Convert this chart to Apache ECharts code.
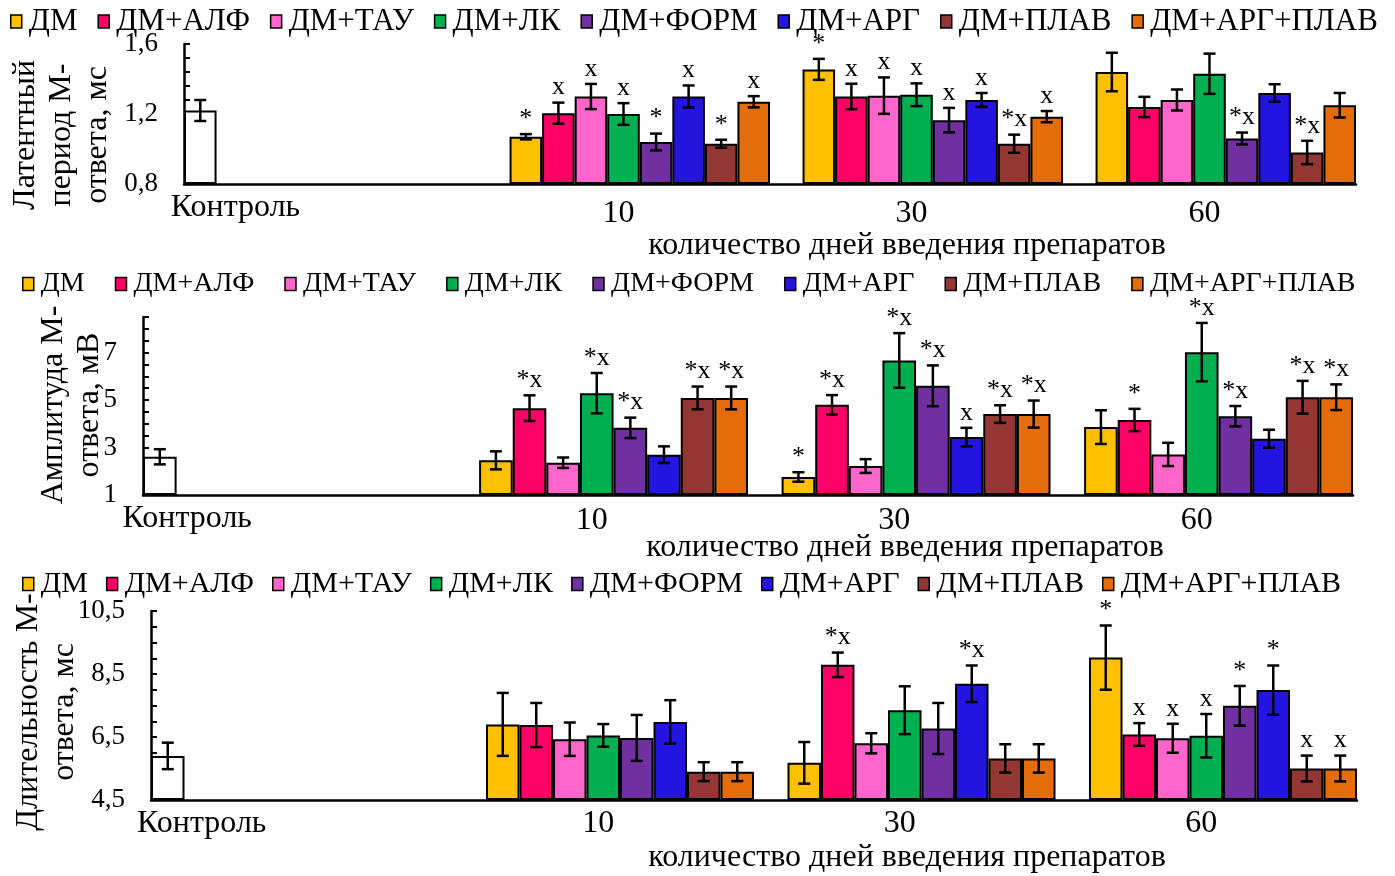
<!DOCTYPE html>
<html><head><meta charset="utf-8">
<script src="https://cdn.jsdelivr.net/npm/echarts@6/dist/echarts.min.js"></script>
<style>html,body{margin:0;padding:0;background:#fff}#c{width:1395px;height:876px}</style>
</head><body><div id="c"></div>
<script>
// ---------- DATA ----------
const categories = ['Контроль', '10', '30', '60'];
const groupNames = ['ДМ','ДМ+АЛФ','ДМ+ТАУ','ДМ+ЛК','ДМ+ФОРМ','ДМ+АРГ','ДМ+ПЛАВ','ДМ+АРГ+ПЛАВ'];
const groupColors = ['#FFC000','#FF0066','#FF66CC','#00B050','#7030A0','#2414E0','#943634','#E46C0A'];
const xTitle = 'количество дней введения препаратов';

// Panel 1: latency (ms), values for days 10, 30, 60 per group
const latencyTitle = 'Латентный\nпериод М-\nответа, мс';
const latencyControl = [1.22, 0.06];
const latencyMean = [
  [1.07, 1.455, 1.44], [1.205, 1.30, 1.24], [1.30, 1.305, 1.28], [1.20, 1.31, 1.43],
  [1.04, 1.165, 1.06], [1.30, 1.28, 1.32], [1.03, 1.03, 0.98], [1.27, 1.185, 1.25]
];
const latencyErr = [
  [0.015, 0.06, 0.11], [0.06, 0.073, 0.058], [0.072, 0.104, 0.06], [0.062, 0.065, 0.115],
  [0.048, 0.07, 0.034], [0.063, 0.04, 0.05], [0.023, 0.052, 0.067], [0.032, 0.032, 0.07]
];
const latencyMarks = [
  ['*','*',''], ['x','x',''], ['x','x',''], ['x','x',''],
  ['*','x','*x'], ['x','x',''], ['*','*x','*x'], ['x','x','']
];

// Panel 2: amplitude (mV)
const amplitudeTitle = 'Амплитуда М-\nответа, мВ';
const amplitudeControl = [2.61, 0.32];
const amplitudeMean = [
  [2.46, 1.76, 3.86], [4.66, 4.80, 4.16], [2.36, 2.22, 2.71], [5.29, 6.67, 7.02],
  [3.83, 5.60, 4.32], [2.70, 3.44, 3.37], [5.09, 4.41, 5.12], [5.09, 4.41, 5.12]
];
const amplitudeErr = [
  [0.38, 0.20, 0.71], [0.54, 0.41, 0.47], [0.22, 0.29, 0.49], [0.85, 1.15, 1.23],
  [0.43, 0.86, 0.43], [0.35, 0.39, 0.38], [0.48, 0.37, 0.69], [0.48, 0.57, 0.54]
];
const amplitudeMarks = [
  ['','*',''], ['*x','*x','*'], ['','',''], ['*x','*x','*x'],
  ['*x','*x','*x'], ['','x',''], ['*x','*x','*x'], ['*x','*x','*x']
];

// Panel 3: duration (ms)
const durationTitle = 'Длительность М-\nответа, мс';
const durationControl = [5.9, 0.42];
const durationMean = [
  [6.90, 5.68, 9.02], [6.88, 8.79, 6.58], [6.43, 6.30, 6.46], [6.55, 7.35, 6.54],
  [6.47, 6.77, 7.49], [6.98, 8.19, 7.99], [5.40, 5.82, 5.50], [5.40, 5.82, 5.50]
];
const durationErr = [
  [1.00, 0.66, 1.02], [0.70, 0.39, 0.36], [0.53, 0.32, 0.46], [0.36, 0.76, 0.69],
  [0.73, 0.81, 0.63], [0.69, 0.58, 0.78], [0.30, 0.45, 0.41], [0.30, 0.45, 0.41]
];
const durationMarks = [
  ['','','*'], ['','*x','x'], ['','','x'], ['','','x'],
  ['','','*'], ['','*x','*'], ['','','x'], ['','','x']
];

// ---------- LAYOUT / STYLE ----------
const FONT = '"Liberation Serif", "Times New Roman", serif';
const panels = [
  { title: latencyTitle, ctrl: latencyControl, mean: latencyMean, err: latencyErr, marks: latencyMarks,
    grid: {left: 184, top: 44, width: 1172, height: 140},
    min: 0.8, max: 1.6, step: 0.08, major: 0.4, dec: 1,
    legendTop: 6, legendLeft: 10, legendFont: 31, legendGap: 20,
    titleX: 62, titleY: 135, xTitleY: 246, xTitleX: 907, ctrlPad: 190, numTop: 6 },
  { title: amplitudeTitle, ctrl: amplitudeControl, mean: amplitudeMean, err: amplitudeErr, marks: amplitudeMarks,
    grid: {left: 143, top: 317, width: 1210, height: 178},
    min: 1, max: 8.5, step: 0.5, major: 2, dec: 0,
    legendTop: 270, legendLeft: 22, legendFont: 28, legendGap: 30,
    titleX: 72, titleY: 405, xTitleY: 548, xTitleX: 905, ctrlPad: 214, numTop: 2 },
  { title: durationTitle, ctrl: durationControl, mean: durationMean, err: durationErr, marks: durationMarks,
    grid: {left: 151, top: 611, width: 1206, height: 189},
    min: 4.5, max: 10.5, step: 0.5, major: 2, dec: 1,
    legendTop: 569, legendLeft: 22, legendFont: 30, legendGap: 18,
    titleX: 47, titleY: 712, xTitleY: 858, xTitleX: 907, ctrlPad: 200, numTop: 0 }
];

const option = {
  animation: false,
  backgroundColor: '#fff',
  textStyle: { fontFamily: FONT, color: '#000' },
  grid: [], xAxis: [], yAxis: [], legend: [], series: [], graphic: []
};

panels.forEach((p, gi) => {
  option.grid.push(Object.assign({containLabel: false}, p.grid));
  option.xAxis.push({
    type: 'category', gridIndex: gi, data: categories,
    axisLine: { lineStyle: { color: '#000', width: 2.5 } },
    axisTick: { show: false },
    axisLabel: {
      margin: 8, color: '#000', fontFamily: FONT, fontSize: 32,
      formatter: v => v === categories[0] ? '{c|' + v + '}' : '{n|' + v + '}',
      rich: {
        c: { padding: [0, p.ctrlPad, 0, 0], fontFamily: FONT, fontSize: 32, color: '#000' },
        n: { padding: [p.numTop, 10, 0, 0], fontFamily: FONT, fontSize: 32, color: '#000' }
      }
    },
    splitLine: { show: false }
  });
  option.yAxis.push({
    type: 'value', gridIndex: gi, min: p.min, max: p.max, interval: p.step, startValue: p.min,
    axisLine: { show: true, lineStyle: { color: '#000', width: 2.5 } },
    axisTick: { show: true, inside: true, length: 6, lineStyle: { color: '#000', width: 2 } },
    splitLine: { show: false },
    axisLabel: {
      margin: 26, color: '#000', fontFamily: FONT, fontSize: 27,
      formatter: v => {
        const k = (v - p.min) / p.major;
        if (Math.abs(k - Math.round(k)) > 1e-6) return '';
        return v.toFixed(p.dec).replace('.', ',');
      }
    }
  });
  option.legend.push({
    data: groupNames, top: p.legendTop, left: p.legendLeft, padding: 0,
    itemWidth: 11, itemHeight: 13, itemGap: p.legendGap, icon: 'rect',
    itemStyle: { borderColor: '#000', borderWidth: 1.5 },
    textStyle: { fontFamily: FONT, fontSize: p.legendFont, color: '#000', padding: [0, 0, 0, 2] },
    selectedMode: false
  });
  // control bar
  option.series.push({
    type: 'bar', name: 'Контроль', xAxisIndex: gi, yAxisIndex: gi,
    data: [p.ctrl[0], '-', '-', '-'],
    barGap: '0%', barCategoryGap: '0%',
    itemStyle: { color: '#fff', borderColor: '#000', borderWidth: 2 }
  });
  groupNames.forEach((name, s) => {
    option.series.push({
      type: 'bar', name, xAxisIndex: gi, yAxisIndex: gi,
      data: ['-'].concat(p.mean[s]),
      barGap: '0%', barCategoryGap: '0%',
      itemStyle: { color: groupColors[s], borderColor: '#000', borderWidth: 2 }
    });
  });
  // error bars + significance marks
  const items = [{ cat: 0, slot: 0, v: p.ctrl[0], e: p.ctrl[1], m: '' }];
  for (let s = 0; s < groupNames.length; s++) {
    for (let c = 0; c < 3; c++) {
      items.push({ cat: c + 1, slot: s + 1, v: p.mean[s][c], e: p.err[s][c], m: p.marks[s][c] });
    }
  }
  option.series.push({
    type: 'custom', xAxisIndex: gi, yAxisIndex: gi, z: 10, silent: true,
    data: items.map(it => [it.cat, it.v]),
    renderItem: (params, api) => {
      const it = items[params.dataIndex];
      const center = api.coord([it.cat, it.v]);
      const bw = api.size([1, 0])[0];
      const slotW = bw / 9;
      const x = center[0] - bw / 2 + (it.slot + 0.5) * slotW;
      const yTop = api.coord([it.cat, it.v + it.e])[1];
      const yBot = api.coord([it.cat, it.v - it.e])[1];
      const cap = 6;
      const ls = { stroke: '#000', lineWidth: 2.5 };
      const children = [
        { type: 'line', shape: { x1: x, y1: yTop, x2: x, y2: yBot }, style: ls },
        { type: 'line', shape: { x1: x - cap, y1: yTop, x2: x + cap, y2: yTop }, style: ls },
        { type: 'line', shape: { x1: x - cap, y1: yBot, x2: x + cap, y2: yBot }, style: ls }
      ];
      if (it.m) {
        children.push({ type: 'text', style: {
          text: it.m, x: x, y: yTop - 2, align: 'center', verticalAlign: 'bottom',
          font: '26px ' + FONT, fill: '#000' } });
      }
      return { type: 'group', children };
    }
  });
  option.graphic.push({
    type: 'text', x: p.titleX, y: p.titleY, rotation: Math.PI / 2,
    style: { text: p.title, align: 'center', verticalAlign: 'middle', font: '32px ' + FONT, fill: '#000', lineHeight: 36 }
  });
  option.graphic.push({
    type: 'text', x: p.xTitleX, y: p.xTitleY,
    style: { text: xTitle, align: 'center', verticalAlign: 'middle', font: '32px ' + FONT, fill: '#000' }
  });
});

const chart = echarts.init(document.getElementById('c'), null, { renderer: 'canvas' });
chart.setOption(option);
</script></body></html>
